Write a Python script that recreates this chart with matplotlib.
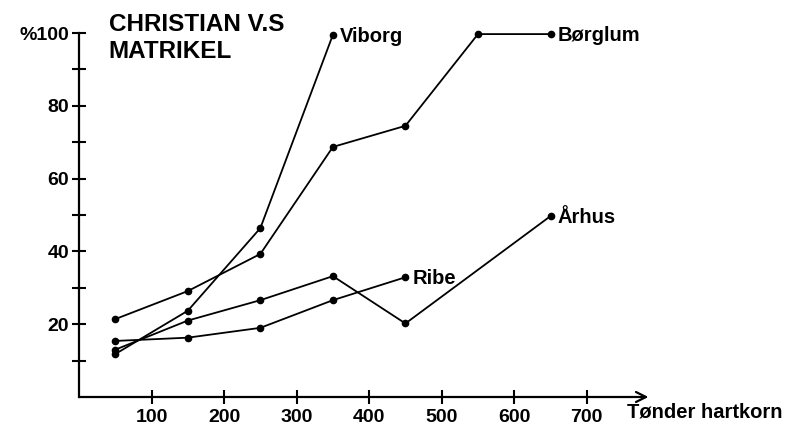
import matplotlib
matplotlib.use("Agg")
import matplotlib.pyplot as plt
from matplotlib.ticker import FixedLocator, FixedFormatter

plt.rcParams['font.family'] = ['Liberation Sans', 'DejaVu Sans']
plt.rcParams['font.weight'] = 'bold'

# tønder hartkorn on x, percent on y
viborg_x = [50, 150, 250, 350]
viborg_y = [11.8, 23.7, 46.4, 99.5]
borglum_x = [50, 150, 250, 350, 450, 550, 650]
borglum_y = [21.4, 29.1, 39.3, 68.7, 74.5, 99.7, 99.7]
ribe_x = [50, 150, 250, 350, 450]
ribe_y = [15.4, 16.3, 19.0, 26.6, 32.9]
arhus_x = [50, 150, 250, 350, 450, 650]
arhus_y = [13.0, 21.0, 26.6, 33.2, 20.2, 49.7]

yticks = [20, 40, 60, 80, 100]
ytick_labels = ['20', '40', '60', '80', '%100']
yminor = [10, 30, 50, 70, 90]
xticks = [100, 200, 300, 400, 500, 600, 700]

fig = plt.figure(figsize=(7.93, 4.26), dpi=100)
ax = fig.add_axes([79 / 793, 29 / 426, 568 / 793, 364 / 426])

series = [
    (viborg_x, viborg_y, 'Viborg'),
    (borglum_x, borglum_y, 'Børglum'),
    (ribe_x, ribe_y, 'Ribe'),
    (arhus_x, arhus_y, 'Århus'),
]
for xs, ys, name in series:
    ax.plot(xs, ys, color='black', lw=1.3, marker='o', ms=4.5, clip_on=False)
    ax.annotate(name, xy=(xs[-1], ys[-1]), xytext=(5, -1), textcoords='offset points',
                ha='left', va='center', fontsize=14.5, fontweight='bold')

ax.set_xlim(0, 783)
ax.set_ylim(0, 100)

for side in ['top', 'right', 'bottom']:
    ax.spines[side].set_visible(False)
ax.spines['left'].set_linewidth(1.6)

ax.annotate('', xy=(785, 0), xytext=(0, 0), xycoords='data',
            arrowprops=dict(arrowstyle='->', lw=1.6, color='black',
                            shrinkA=0, shrinkB=0, mutation_scale=18),
            annotation_clip=False)

ax.yaxis.set_major_locator(FixedLocator(yticks))
ax.yaxis.set_major_formatter(FixedFormatter(ytick_labels))
ax.yaxis.set_minor_locator(FixedLocator(yminor))
ax.set_xticks(xticks)
ax.set_xticklabels([str(v) for v in xticks])
ax.tick_params(axis='both', which='both', direction='inout', length=10, width=1.5, labelsize=14)
ax.tick_params(axis='y', pad=2)
ax.tick_params(axis='x', pad=4)
for lab in ax.get_xticklabels() + ax.get_yticklabels():
    lab.set_fontweight('bold')

ax.text(756, -4, 'Tønder hartkorn', ha='left', va='center', fontsize=14.5,
        fontweight='bold', clip_on=False)
ax.text(41, 105.5, 'CHRISTIAN V.S\nMATRIKEL', ha='left', va='top', fontsize=17.5,
        fontweight='bold', linespacing=1.2, clip_on=False)

fig.savefig('out.png', dpi=100)
